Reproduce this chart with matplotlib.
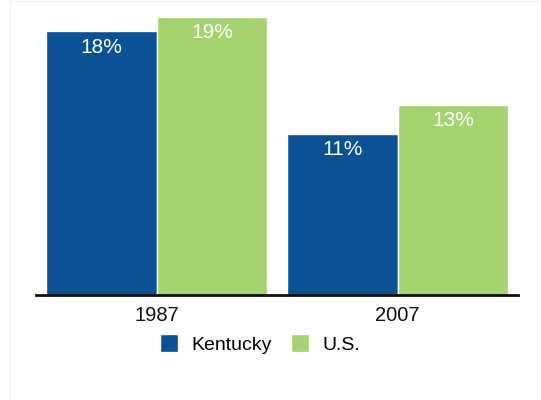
import matplotlib.pyplot as plt
import numpy as np

years = ["1987", "2007"]
kentucky = [18, 11]
us = [19, 13]
series_names = ["Kentucky", "U.S."]
colors = ["#0b5294", "#a4d36f"]

plt.rcParams['font.family'] = ['Liberation Sans', 'DejaVu Sans']

fig = plt.figure(figsize=(5.41, 4.0), dpi=100)
ax = fig.add_axes([36/541, 105/400, 482/541, 293/400])

x = np.arange(len(years))
w = 0.46
bars_k = ax.bar(x - w/2, kentucky, w, color=colors[0], edgecolor="white", linewidth=1, label=series_names[0])
bars_u = ax.bar(x + w/2, us, w, color=colors[1], edgecolor="white", linewidth=1, label=series_names[1])

for bars in (bars_k, bars_u):
    for b in bars:
        ax.text(b.get_x() + b.get_width()/2, b.get_height() - 1.1, f"{b.get_height():.0f}%",
                ha="center", va="center", color="white", fontsize=15)

ax.set_xlim(-0.5, 1.5)
ax.set_ylim(0, 20)
ax.set_xticks(x)
ax.set_xticklabels(years, fontsize=14.5, color="#111111")
ax.tick_params(axis="x", length=0, pad=8)
ax.set_yticks([])
for s in ["top", "right", "left"]:
    ax.spines[s].set_visible(False)
ax.spines["bottom"].set_linewidth(2)
ax.spines["bottom"].set_color("#111111")

fig.legend(handles=[bars_k, bars_u], labels=series_names, loc="center", ncol=2,
           bbox_to_anchor=(260/541, 1 - 344/400), frameon=False, fontsize=14,
           handlelength=0.9, handleheight=1.0, handletextpad=0.7, columnspacing=1.0)

# faint page border
fig.add_artist(plt.Line2D([10/541, 10/541], [0, 1], color="#f2f2f2", lw=1))
fig.add_artist(plt.Line2D([10/541, 1], [0.998, 0.998], color="#f2f2f2", lw=1))

fig.savefig("out.png", dpi=100)
